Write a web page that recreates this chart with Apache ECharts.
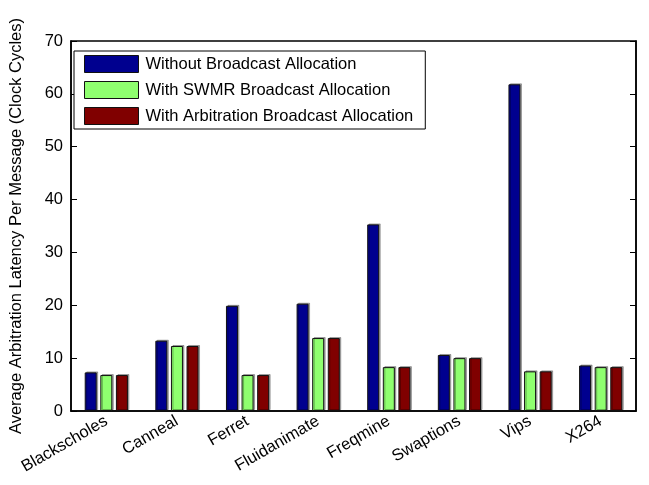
<!DOCTYPE html>
<html>
<head>
<meta charset="utf-8">
<script src="https://cdn.jsdelivr.net/npm/echarts@6/dist/echarts.min.js"></script>
<style>
  html, body { margin: 0; padding: 0; background: #fff; }
  #chart { width: 649px; height: 485px; }
</style>
</head>
<body>
<div id="chart"></div>
<script>
// Benchmarks on the x axis
const benchmarks = ['Blackscholes', 'Canneal', 'Ferret', 'Fluidanimate', 'Freqmine', 'Swaptions', 'Vips', 'X264'];

// Average arbitration latency per message (clock cycles)
const withoutBroadcast   = [7.3, 13.3, 19.9, 20.3, 35.3, 10.6, 61.8, 8.6];
const withSwmrBroadcast  = [6.8, 12.3, 6.8, 13.8, 8.3, 10.0, 7.5, 8.3];
const withArbBroadcast   = [6.8, 12.3, 6.8, 13.8, 8.3, 10.0, 7.5, 8.3];

const seriesNames = [
  'Without Broadcast Allocation',
  'With SWMR Broadcast Allocation',
  'With Arbitration Broadcast Allocation'
];
const seriesColors = ['#00008F', '#8FFF6F', '#800000'];

const font = 'Liberation Sans, Arial, Helvetica, sans-serif';
const fontSize = 16.5;
const chart = echarts.init(document.getElementById('chart'), null, { renderer: 'canvas' });

const axisLine = { show: true, lineStyle: { color: '#000', width: 1.5 } };
const tickStyle = { show: true, inside: true, length: 6, lineStyle: { color: '#000', width: 1 } };

function bar(name, data, color) {
  return {
    name: name,
    type: 'bar',
    data: data,
    barWidth: 12,
    barGap: '30%',
    itemStyle: {
      color: color,
      borderColor: '#111',
      borderWidth: 1,
      shadowColor: 'rgba(0,0,0,0.3)',
      shadowBlur: 0,
      shadowOffsetX: 1.5,
      shadowOffsetY: -1
    },
    xAxisIndex: 0,
    yAxisIndex: 0
  };
}

chart.setOption({
  animation: false,
  backgroundColor: '#fff',
  // boxed plot frame
  grid: { left: 66, right: 13, top: 41, bottom: 74, show: true, borderColor: '#000', borderWidth: 1.5 },
  legend: {
    orient: 'vertical',
    left: 74,
    top: 51,
    itemWidth: 54,
    itemHeight: 17,
    itemGap: 8,
    padding: [4, 12, 4, 10],
    backgroundColor: '#fff',
    borderColor: '#000',
    borderWidth: 1,
    borderRadius: 0,
    icon: 'rect',
    itemStyle: { borderColor: '#111', borderWidth: 1 },
    textStyle: { fontFamily: font, fontSize: fontSize, color: '#000', padding: [0, 0, 0, 2] },
    data: seriesNames
  },
  xAxis: [
    {
      type: 'category',
      data: benchmarks,
      position: 'bottom',
      axisLine: axisLine,
      axisTick: { show: false },
      axisLabel: {
        rotate: 30, margin: 9, interval: 0, hideOverlap: false,
        fontFamily: font, fontSize: fontSize, color: '#000'
      },
      splitLine: { show: false }
    }
  ],
  yAxis: [
    {
      type: 'value',
      min: 0, max: 70, interval: 10,
      position: 'left',
      name: 'Average Arbitration Latency Per Message (Clock Cycles)',
      nameLocation: 'middle',
      nameGap: 46,
      nameTextStyle: { fontFamily: font, fontSize: fontSize, color: '#000' },
      axisLine: axisLine,
      axisTick: tickStyle,
      axisLabel: { margin: 8, fontFamily: font, fontSize: fontSize, color: '#000' },
      splitLine: { show: false }
    },
    {
      type: 'value',
      min: 0, max: 70, interval: 10,
      position: 'right',
      axisLine: axisLine,
      axisTick: tickStyle,
      axisLabel: { show: false },
      splitLine: { show: false }
    }
  ],
  series: [
    bar(seriesNames[0], withoutBroadcast, seriesColors[0]),
    bar(seriesNames[1], withSwmrBroadcast, seriesColors[1]),
    bar(seriesNames[2], withArbBroadcast, seriesColors[2])
  ]
});
</script>
</body>
</html>
